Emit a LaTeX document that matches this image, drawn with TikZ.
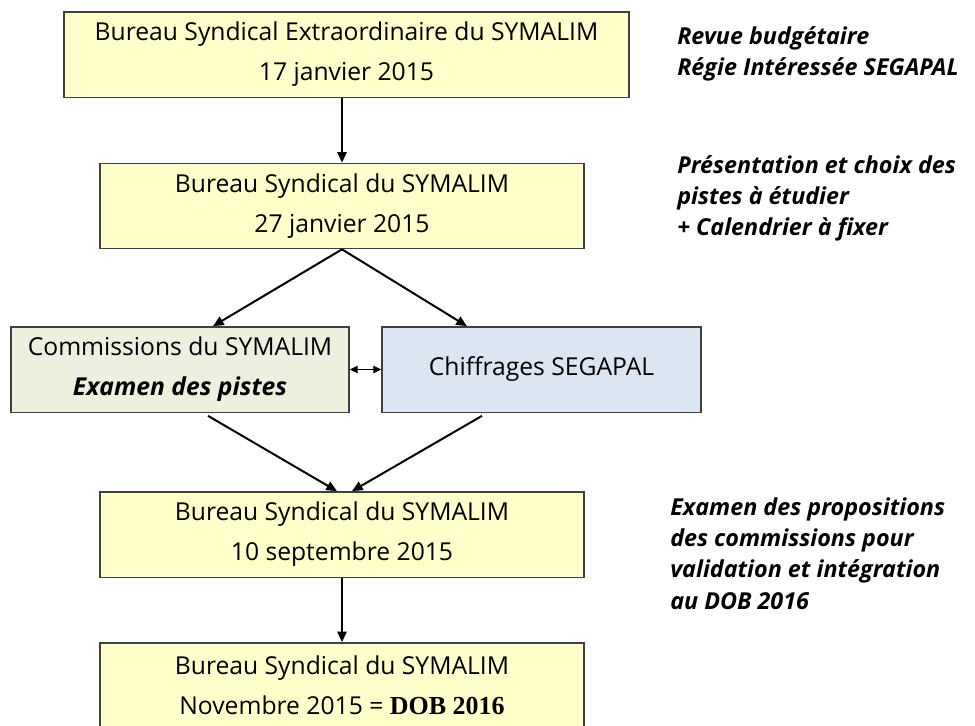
\documentclass[tikz,border=0pt]{standalone}
\usepackage{fontspec}
\setmainfont{Open Sans}
\newfontfamily\dobfont{Liberation Serif}
\usetikzlibrary{positioning,arrows.meta}

\definecolor{boxYellow}{HTML}{FFFFCC}
\definecolor{boxGreen}{HTML}{EBF1DE}
\definecolor{boxBlue}{HTML}{DCE6F2}
\definecolor{boxBorder}{HTML}{404040}

\begin{document}
\begin{tikzpicture}
[x=0.75pt,y=-0.75pt,%
  arrowDecorate/.style={->,>={Stealth[length=8pt,width=7pt,inset=0pt]},line width=1.5pt},%
  boxDecorate/.style={shape=rectangle,draw=boxBorder,line width=1pt,
    fill=boxYellow,align=center,inner sep=0pt,minimum height=64pt,
    font=\fontsize{18.5}{30}\selectfont},%
  noteDecorate/.style={anchor=north west,align=left,inner sep=0pt,
    font=\fontsize{17.5}{23.5}\selectfont\bfseries\itshape}]
\useasboundingbox (0,0) rectangle (975,725);
\clip (0,0) rectangle (975,725);
%% boxes
\node (bs1) at (346.5,54.5) [boxDecorate,minimum width=423.75pt]
  {Bureau Syndical Extraordinaire du SYMALIM\\17 janvier 2015};
\node (bs2) at (342,206) [boxDecorate,minimum width=363pt]
  {Bureau Syndical du SYMALIM\\27 janvier 2015};
\node (com) at (180,369.5) [boxDecorate,fill=boxGreen,minimum width=253.5pt]
  {Commissions du SYMALIM\\\textbf{\textit{Examen des pistes}}};
\node (chif) at (541.5,369.5) [boxDecorate,fill=boxBlue,minimum width=239.25pt]
  {Chiffrages SEGAPAL};
\node (bs3) at (342,534.5) [boxDecorate,minimum width=363pt]
  {Bureau Syndical du SYMALIM\\10 septembre 2015};
\node (bs4) at (342,685.5) [boxDecorate,minimum width=363pt]
  {Bureau Syndical du SYMALIM\\Novembre 2015 = {\dobfont\bfseries\fontsize{19.5}{30}\selectfont DOB 2016}};
%% notes
\node (note1) at (677,26) [noteDecorate]
  {Revue budgétaire\\Régie Intéressée SEGAPAL};
\node (note2) at (677,155) [noteDecorate]
  {Présentation et choix des\\pistes à étudier\\+ Calendrier à fixer};
\node (note3) at (670,497) [noteDecorate]
  {Examen des propositions\\des commissions pour\\validation et intégration\\au DOB 2016};
%% arrows
\draw[arrowDecorate] (bs2.north |- bs1.south) -- (bs2.north);
\draw[arrowDecorate] (bs3.south) -- (bs4.north);
\foreach \endnode/\shift in {com/24.75pt, chif/-55.9pt}
{
  \draw[arrowDecorate] (bs2.south) -- ([xshift=\shift]\endnode.north);
}
\foreach \startnode/\startshift/\endshift in {com/21pt/-3.75pt, chif/-44.6pt/7.5pt}
{
  \draw[arrowDecorate] ([xshift=\startshift,yshift=-2.25pt]\startnode.south)
    -- ([xshift=\endshift]bs3.north);
}
\draw[<->,>={Stealth[length=6pt,width=5.5pt,inset=0pt]},line width=0.9pt]
  (com.east) -- (chif.west);
\end{tikzpicture}
\end{document}
